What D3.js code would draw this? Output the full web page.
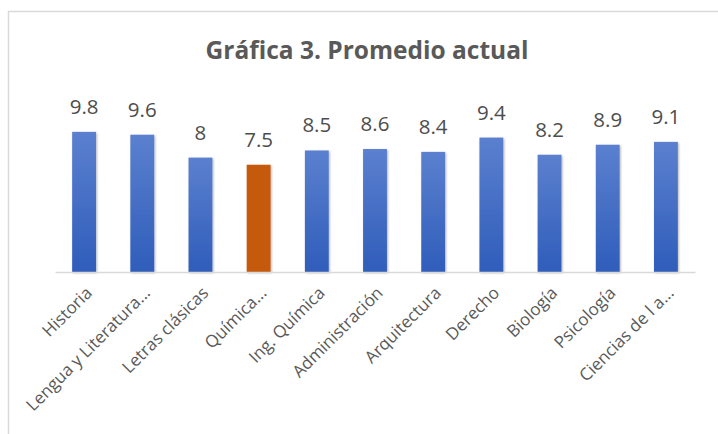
<!DOCTYPE html>
<html>
<head>
<meta charset="utf-8">
<script src="https://cdn.jsdelivr.net/npm/d3@7"></script>
<style>
  body { margin: 0; background: #fff; }
  text { font-family: "Open Sans", "Noto Sans", sans-serif; }
</style>
</head>
<body>
<div id="chart"></div>
<script>
var categories = ["Historia", "Lengua y Literatura...", "Letras clásicas", "Química...", "Ing. Química",
    "Administración", "Arquitectura", "Derecho", "Biología", "Psicología", "Ciencias de l a..."]
var values = [9.8, 9.6, 8, 7.5, 8.5, 8.6, 8.4, 9.4, 8.2, 8.9, 9.1]
var highlight = "Química..."
var title = "Gráfica 3. Promedio actual"

var W = 718, H = 434
var margin = { top: 129, left: 55, right: 23, bottom: 162 }
var width = W - margin.left - margin.right,
    height = H - margin.top - margin.bottom

var svg = d3.select("#chart").append("svg")
    .attr("width", W)
    .attr("height", H)

// gradients + soft shadow
var defs = svg.append("defs")
var gb = defs.append("linearGradient").attr("id", "gBlue").attr("x1", 0).attr("y1", 0).attr("x2", 0).attr("y2", 1)
gb.append("stop").attr("offset", "0%").attr("stop-color", "#5b80cf")
gb.append("stop").attr("offset", "100%").attr("stop-color", "#2f5dba")
var sh = defs.append("filter").attr("id", "shadow").attr("x", "-30%").attr("y", "-10%").attr("width", "160%").attr("height", "130%")
sh.append("feDropShadow").attr("dx", 1).attr("dy", 1).attr("stdDeviation", 1.2)
    .attr("flood-color", "#000").attr("flood-opacity", 0.3)

// chart area border
svg.append("rect")
    .attr("x", 8.5).attr("y", 11.5)
    .attr("width", 720).attr("height", 440)
    .attr("fill", "none")
    .attr("stroke", "#d9d9d9")
    .attr("stroke-width", 1.5)

svg.append("text")
    .attr("x", 367).attr("y", 59)
    .attr("text-anchor", "middle")
    .attr("font-size", 24.5)
    .attr("font-weight", "bold")
    .attr("fill", "#595959")
    .text(title)

var g = svg.append("g")
    .attr("transform", "translate(" + margin.left + "," + margin.top + ")")

var x = d3.scaleBand()
    .domain(categories)
    .range([0, width])
    .paddingInner(0.59)
    .paddingOuter(0.295)

var y = d3.scaleLinear()
    .domain([0, 10])
    .range([height, 0])

var data = categories.map((c, i) => ({ cat: c, val: values[i] }))

g.selectAll("rect.bar")
    .data(data)
    .enter()
    .append("rect")
    .attr("class", "bar")
    .attr("x", d => x(d.cat))
    .attr("y", d => y(d.val))
    .attr("width", x.bandwidth())
    .attr("height", d => height - y(d.val))
    .attr("fill", d => d.cat == highlight ? "#c55a11" : "url(#gBlue)")
    .attr("filter", "url(#shadow)")

g.selectAll("text.val")
    .data(data)
    .enter()
    .append("text")
    .attr("class", "val")
    .attr("x", d => x(d.cat) + x.bandwidth() / 2)
    .attr("y", d => y(d.val) - 18)
    .attr("text-anchor", "middle")
    .attr("font-size", 20.5)
    .attr("fill", "#4d4d4d")
    .text(d => d.val)

// x axis
var xAxis = g.append("g")
    .attr("transform", "translate(0," + height + ")")
    .call(d3.axisBottom(x).tickSize(0).tickPadding(0))
xAxis.select(".domain").attr("stroke", "#d9d9d9").attr("stroke-width", 1.5)
xAxis.selectAll("text")
    .attr("font-size", 17)
    .attr("fill", "#595959")
    .attr("text-anchor", "end")
    .attr("dy", 0)
    .attr("transform", "translate(9,22) rotate(-45)")
</script>
</body>
</html>
